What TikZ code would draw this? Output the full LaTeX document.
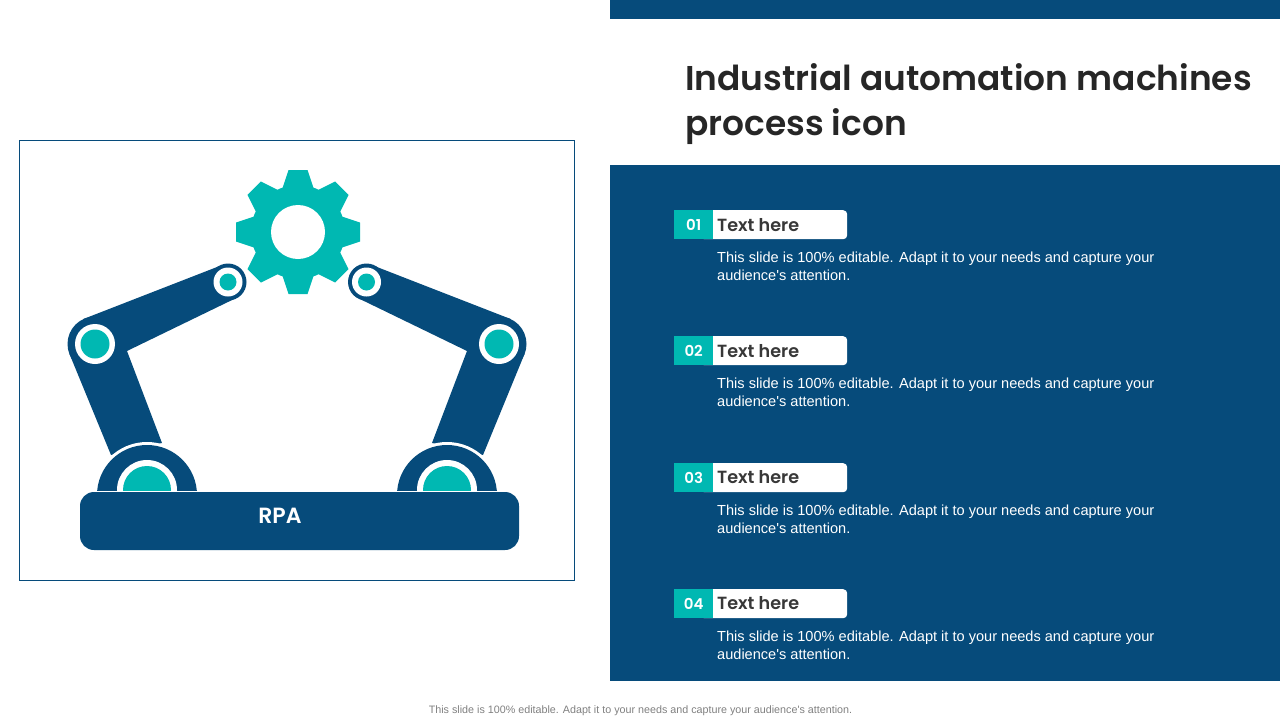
\documentclass[tikz,border=0pt]{standalone}
\usepackage{fontspec}
\setmainfont{Liberation Sans}
\newfontfamily\headfont[BoldFont=Poppins SemiBold]{Poppins}
\definecolor{navy}{HTML}{064B7B}
\definecolor{teal1}{HTML}{00B8B2}
\tikzset{
  solid1/.style = {fill=navy, draw=none},
  disc/.style = {circle, inner sep=0pt, draw=none},
  tabnode/.style = {anchor=north west, inner sep=0pt, fill=teal1, text=white, minimum width=39pt,
    minimum height=29pt, font=\headfont\bfseries\fontsize{15}{15}\selectfont},
  pillnode/.style = {anchor=north west, inner sep=0pt, fill=white, rounded corners=4pt,
    minimum width=147pt, minimum height=29pt},
  headnode/.style = {anchor=west, inner sep=0pt, text=black!78,
    font=\headfont\fontsize{17.6}{18}\selectfont\bfseries},
  bodynode/.style = {anchor=north west, inner sep=0pt, text=white, align=left,
    font=\fontsize{14.57}{18}\selectfont},
}
\newcommand{\bodytext}{This slide is 100\% editable. Adapt it to your needs and capture your\\audience\textquotesingle s attention.}
\begin{document}
\begin{tikzpicture}[x=1pt,y=-1pt]
\useasboundingbox (0,0) rectangle (1280,720);
% right side panels
\fill[navy] (610,0) rectangle (1280,19);
\fill[navy] (610,165) rectangle (1280,681);
\node [anchor=north west, inner sep=0pt, align=left, text=black!85,
  font=\headfont\bfseries\fontsize{34.4}{45}\selectfont] (title) at (685,63)
  {Industrial automation machines\\process icon};
% picture frame
\draw[navy, line width=0.7pt] (19.5,140.5) rectangle (574.5,580.5);
% gear
\foreach \a in {0,45,...,315}{
  \fill[teal1, rotate around={\a:(298,232)}] (282.5,188) -- (288.5,170) -- (307.5,170) -- (313.5,188) -- cycle;
}
\node [disc, fill=teal1, minimum size=94pt] (gear) at (298,232) {};
\node [disc, fill=white, minimum size=54pt] (gearhole) at (298,232) {};
% left arm
\fill[solid1] (83.4,319) -- (220.4,265.7) -- (235.6,298.3) -- (127,351) -- (162,443)
  -- (111,455) -- (69.5,354) -- cycle;
\node [disc, solid1, minimum size=55pt] (elbowL) at (95,344) {};
\node [disc, solid1, minimum size=37pt] (wristL) at (228,282) {};
\node [disc, fill=white, minimum size=40pt] at (elbowL) {};
\node [disc, fill=teal1, minimum size=29pt] at (elbowL) {};
\node [disc, fill=white, minimum size=29pt] at (wristL) {};
\node [disc, fill=teal1, minimum size=17pt] at (wristL) {};
% right arm
\fill[solid1] (510.6,319) -- (373.6,265.7) -- (358.4,298.3) -- (467,351) -- (432,443)
  -- (483,455) -- (524.5,354) -- cycle;
\node [disc, solid1, minimum size=55pt] (elbowR) at (499,344) {};
\node [disc, solid1, minimum size=37pt] (wristR) at (366.5,282) {};
\node [disc, fill=white, minimum size=40pt] at (elbowR) {};
\node [disc, fill=teal1, minimum size=29pt] at (elbowR) {};
\node [disc, fill=white, minimum size=29pt] at (wristR) {};
\node [disc, fill=teal1, minimum size=17pt] at (wristR) {};
% bases
\node [disc, fill=white, minimum size=106pt] (baseL) at (147,495) {};
\node [disc, solid1, minimum size=100pt] at (baseL) {};
\node [disc, fill=white, minimum size=60pt] at (147,490) {};
\node [disc, fill=teal1, minimum size=48pt] at (147,490) {};
\node [disc, fill=white, minimum size=106pt] (baseR) at (447,495) {};
\node [disc, solid1, minimum size=100pt] at (baseR) {};
\node [disc, fill=white, minimum size=60pt] at (447,490) {};
\node [disc, fill=teal1, minimum size=48pt] at (447,490) {};
\fill[white] (90,491) rectangle (510,560);
\fill[solid1, rounded corners=14pt] (80,492) rectangle (519,550);
\node [text=white, inner sep=0pt, font=\headfont\bfseries\fontsize{22}{22}\selectfont] (rpa) at (280,516) {RPA};
% rows
\node [pillnode] (pill1) at (700,210) {};
\node [tabnode] (tab1) at (674,210) {01};
\node [headnode] (head1) at (717,225) {Text here};
\node [bodynode] (body1) at (717,252) {\bodytext};
\node [pillnode] (pill2) at (700,336) {};
\node [tabnode] (tab2) at (674,336) {02};
\node [headnode] (head2) at (717,351) {Text here};
\node [bodynode] (body2) at (717,378) {\bodytext};
\node [pillnode] (pill3) at (700,463) {};
\node [tabnode] (tab3) at (674,463) {03};
\node [headnode] (head3) at (717,477) {Text here};
\node [bodynode] (body3) at (717,505) {\bodytext};
\node [pillnode] (pill4) at (700,589) {};
\node [tabnode] (tab4) at (674,589) {04};
\node [headnode] (head4) at (717,603) {Text here};
\node [bodynode] (body4) at (717,631) {\bodytext};
% footer
\node [inner sep=0pt, text=black!50, font=\fontsize{10.74}{10}\selectfont] (footer) at (640.5,711)
  {This slide is 100\% editable. Adapt it to your needs and capture your audience\textquotesingle s attention.};
\end{tikzpicture}
\end{document}
